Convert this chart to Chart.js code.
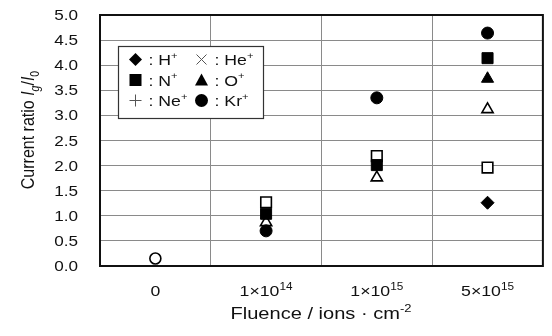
<!DOCTYPE html>
<html>
<head>
<meta charset="utf-8">
<script src="https://cdn.jsdelivr.net/npm/chart.js@4.4.1/dist/chart.umd.min.js"></script>
<style>
  html, body { margin: 0; padding: 0; background: #fff; }
  #wrap { width: 552px; height: 336px; position: relative; }
</style>
</head>
<body>
<div id="wrap"><canvas id="chart"></canvas></div>
<script>
// categories (fluence, ions/cm2)
const fluences = ['0', '1e14', '1e15', '5e15'];
const fluenceMantissa = ['0', '1×10', '1×10', '5×10'];
const fluenceExponent = ['', '14', '15', '15'];

// current ratio Ig/I0, filled markers
const hPlus  = [null, null, null, 1.26];
const nPlus  = [null, 1.04, 2.01, 4.14];
const oPlus  = [null, null, null, 3.73];
const krPlus = [null, 0.70, 3.35, 4.64];
// open markers
const openCircle   = [0.15, null, null, null];
const openSquare   = [null, 1.27, 2.19, 1.96];
const openTriangle = [null, 0.87, 1.76, 3.12];

// legend entries
const legendMarkers = ['diamond', 'cross', 'square', 'triangle', 'plus', 'circle'];
const legendIons    = ['H', 'He', 'N', 'O', 'Ne', 'Kr'];

const FONT = "'Liberation Sans', Arial, sans-serif";
const SX = 1.18; // the source figure is stretched sideways a bit

function richText(ctx, parts, x, y, align, sx) {
  // parts: [text, size, rise, italic]
  let w = 0;
  parts.forEach(p => {
    ctx.font = (p[3] ? 'italic ' : '') + p[1] + 'px ' + FONT;
    w += ctx.measureText(p[0]).width;
  });
  ctx.save();
  ctx.translate(x, y);
  ctx.scale(sx, 1);
  ctx.textAlign = 'left';
  ctx.textBaseline = 'alphabetic';
  ctx.fillStyle = '#111';
  let cx = align === 'center' ? -w / 2 : align === 'right' ? -w : 0;
  parts.forEach(p => {
    ctx.font = (p[3] ? 'italic ' : '') + p[1] + 'px ' + FONT;
    ctx.fillText(p[0], cx, -p[2]);
    cx += ctx.measureText(p[0]).width;
  });
  ctx.restore();
}

function marker(ctx, type, x, y) {
  ctx.save();
  ctx.fillStyle = '#000';
  ctx.strokeStyle = '#000';
  ctx.beginPath();
  if (type === 'diamond') {
    const r = 6.5;
    ctx.moveTo(x, y - r); ctx.lineTo(x + r, y); ctx.lineTo(x, y + r); ctx.lineTo(x - r, y);
    ctx.closePath(); ctx.fill();
  } else if (type === 'square') {
    ctx.fillRect(x - 6, y - 6, 12, 12);
  } else if (type === 'triangle') {
    ctx.moveTo(x, y - 6.5); ctx.lineTo(x + 6.5, y + 5.5); ctx.lineTo(x - 6.5, y + 5.5);
    ctx.closePath(); ctx.fill();
  } else if (type === 'circle') {
    ctx.arc(x, y, 6.5, 0, Math.PI * 2); ctx.fill();
  } else if (type === 'cross') {
    ctx.strokeStyle = '#555'; ctx.lineWidth = 1;
    ctx.moveTo(x - 5, y - 5); ctx.lineTo(x + 5, y + 5);
    ctx.moveTo(x + 5, y - 5); ctx.lineTo(x - 5, y + 5); ctx.stroke();
  } else if (type === 'plus') {
    ctx.strokeStyle = '#555'; ctx.lineWidth = 1;
    ctx.moveTo(x - 6, y); ctx.lineTo(x + 6, y);
    ctx.moveTo(x, y - 6); ctx.lineTo(x, y + 6); ctx.stroke();
  }
  ctx.restore();
}

const decor = {
  id: 'decor',
  afterDraw(chart) {
    const { ctx, chartArea: a, scales: { x, y } } = chart;
    ctx.save();
    // frame
    ctx.strokeStyle = '#111';
    ctx.lineWidth = 2;
    ctx.strokeRect(a.left, a.top, a.right - a.left, a.bottom - a.top);

    // y tick labels
    y.ticks.forEach(t => {
      richText(ctx, [[t.value.toFixed(1), 14.5, 0]], 78, y.getPixelForValue(t.value) + 5, 'right', SX);
    });
    // x tick labels
    fluences.forEach((f, i) => {
      const px = x.getPixelForValue(i);
      const parts = [[fluenceMantissa[i], 15, 0]];
      if (fluenceExponent[i]) parts.push([fluenceExponent[i], 10, 6]);
      richText(ctx, parts, px, 296, 'center', SX);
    });
    // x title
    richText(ctx, [['Fluence / ions \u00B7 cm', 17, 0], ['-2', 11, 7]], 321, 319, 'center', SX);

    // y title (rotated)
    ctx.save();
    ctx.translate(34, 130);
    ctx.rotate(-Math.PI / 2);
    ctx.scale(1, SX);
    richText(ctx, [['Current ratio ', 16, 0], ['I', 16, 0, true], ['g', 10.5, -4, true],
                   ['/', 16, 0], ['I', 16, 0, true], ['0', 10.5, -4]], 0, 0, 'center', 1);
    ctx.restore();

    // legend box
    const lx = 118, ly = 46, lw = 145, lh = 72;
    ctx.fillStyle = '#fff';
    ctx.fillRect(lx, ly, lw, lh);
    ctx.strokeStyle = '#333';
    ctx.lineWidth = 1.2;
    ctx.strokeRect(lx + 0.5, ly + 0.5, lw, lh);
    legendMarkers.forEach((m, i) => {
      const col = i % 2, row = Math.floor(i / 2);
      const mx = col === 0 ? 135.5 : 201.5;
      const my = 59.5 + row * 20.5;
      marker(ctx, m, mx, my);
      richText(ctx, [[': ' + legendIons[i], 15, 0], ['+', 9.5, 6.5]], mx + 13, my + 5.5, 'left', SX);
    });
    ctx.restore();
  }
};

const filled = { pointBackgroundColor: '#000', pointBorderColor: '#000', pointBorderWidth: 1 };
const open = { pointBackgroundColor: '#fff', pointBorderColor: '#000', pointBorderWidth: 1.6 };

new Chart(document.getElementById('chart'), {
  type: 'line',
  data: {
    labels: fluences,
    datasets: [
      { label: 'Kr+', data: krPlus, pointStyle: 'circle', pointRadius: 6, ...filled },
      { label: 'N+', data: nPlus, pointStyle: 'rect', pointRadius: 7.8, ...filled },
      { label: 'O+', data: oPlus, pointStyle: 'triangle', pointRadius: 7, ...filled },
      { label: 'H+', data: hPlus, pointStyle: 'rectRot', pointRadius: 6.5, ...filled },
      { label: 'open triangle', data: openTriangle, pointStyle: 'triangle', pointRadius: 6.5, ...open },
      { label: 'open square', data: openSquare, pointStyle: 'rect', pointRadius: 7.5, ...open },
      { label: 'open circle', data: openCircle, pointStyle: 'circle', pointRadius: 5.5, ...open }
    ].map(d => ({ ...d, showLine: false, spanGaps: false }))
  },
  options: {
    responsive: true,
    maintainAspectRatio: false,
    animation: false,
    layout: { padding: { top: 15, right: 1, left: 0, bottom: 0 } },
    plugins: { legend: { display: false }, tooltip: { enabled: false } },
    scales: {
      x: {
        type: 'category',
        offset: true,
        grid: { offset: true, color: '#8a8a8a', lineWidth: 1, drawTicks: false },
        border: { display: false },
        ticks: { display: false },
        afterFit(scale) { scale.height = 70; }
      },
      y: {
        min: 0,
        max: 5,
        ticks: { display: false, stepSize: 0.5 },
        grid: { color: '#8a8a8a', lineWidth: 1, drawTicks: false },
        border: { display: false },
        afterFit(scale) { scale.width = 100; }
      }
    }
  },
  plugins: [decor]
});
</script>
</body>
</html>
